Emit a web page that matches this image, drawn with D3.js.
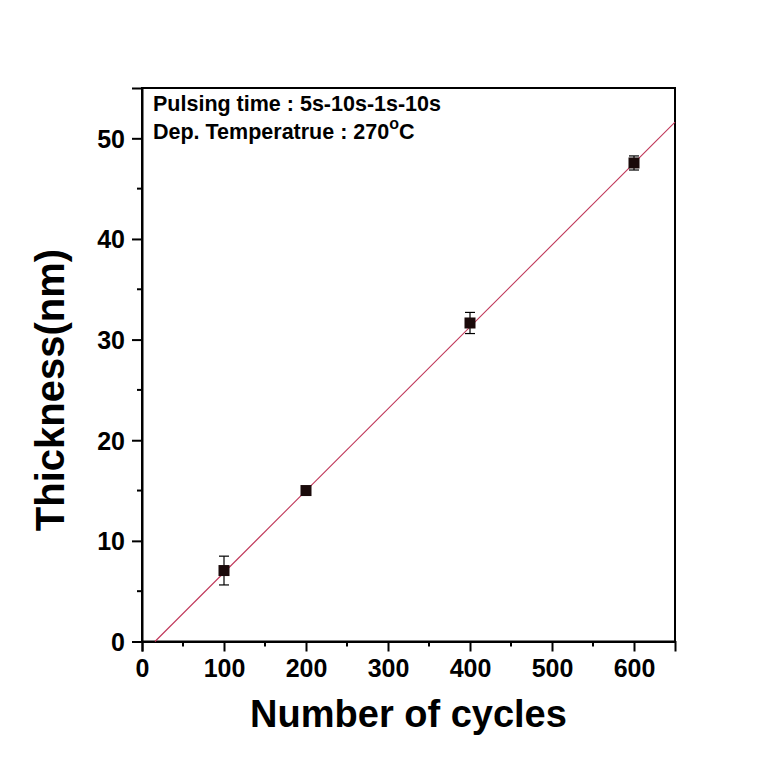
<!DOCTYPE html>
<html>
<head>
<meta charset="utf-8">
<script src="https://cdn.jsdelivr.net/npm/d3@7"></script>
<style>
  html, body { margin: 0; padding: 0; background: #fff; }
  svg { display: block; font-family: Arial, "Liberation Sans", sans-serif; }
</style>
</head>
<body>
<svg id="chart" width="768" height="768"></svg>
<script>
// ---- data ----
const cycles = [100, 200, 400, 600];
const thickness = [7.05, 15.0, 31.65, 47.55];
const errors = [1.43, 0.3, 1.05, 0.7];
const fitX = [15.8, 650];
const fitY = [0, 51.6];
const xTicks = [0, 100, 200, 300, 400, 500, 600];
const yTicks = [0, 10, 20, 30, 40, 50];
const xLabel = "Number of cycles";
const yLabel = "Thickness(nm)";
const note1 = "Pulsing time : 5s-10s-1s-10s";
const note2 = "Dep. Temperatrue : 270";

const svg = d3.select("#chart");
const L = 142, R = 675, T = 88, B = 641.5;

const x = d3.scaleLinear().domain([0, 650]).range([L, R]);
const y = d3.scaleLinear().domain([0, 55]).range([B, T]);

// frame
svg.append("rect").attr("x", L).attr("y", T).attr("width", R - L).attr("height", B - T)
  .attr("fill", "none").attr("stroke", "#000").attr("stroke-width", 2);

// minor ticks
const xMinor = d3.range(50, 650, 100);
const yMinor = d3.range(5, 55, 10);
svg.append("g").selectAll("line").data(xMinor).join("line")
  .attr("x1", d => x(d)).attr("x2", d => x(d)).attr("y1", B).attr("y2", B + 5)
  .attr("stroke", "#000").attr("stroke-width", 2);
svg.append("g").selectAll("line").data(yMinor).join("line")
  .attr("y1", d => y(d)).attr("y2", d => y(d)).attr("x1", L).attr("x2", L - 5)
  .attr("stroke", "#000").attr("stroke-width", 2);

// axes
const xAxis = svg.append("g").attr("transform", `translate(0,${B})`)
  .call(d3.axisBottom(x).tickValues(xTicks).tickSize(10).tickPadding(8).tickFormat(d3.format("d")));
const yAxis = svg.append("g").attr("transform", `translate(${L},0)`)
  .call(d3.axisLeft(y).tickValues(yTicks).tickSize(10).tickPadding(7).tickFormat(d3.format("d")));
[xAxis, yAxis].forEach(g => {
  g.select(".domain").attr("stroke-width", 2);
  g.selectAll(".tick line").attr("stroke-width", 2);
  g.selectAll("text").attr("font-family", "Arial, 'Liberation Sans', sans-serif")
    .attr("font-weight", "bold").attr("fill", "#000");
});
xAxis.selectAll("text").attr("font-size", 25);
yAxis.selectAll("text").attr("font-size", 25).attr("dy", "0.36em");

// fit line
svg.append("line")
  .attr("x1", x(fitX[0])).attr("y1", y(fitY[0]))
  .attr("x2", x(fitX[1])).attr("y2", y(fitY[1]))
  .attr("stroke", "#c0385a").attr("stroke-width", 1.1);

// error bars
const eb = svg.append("g").attr("stroke", "#000").attr("stroke-width", 1.2);
cycles.forEach((c, i) => {
  const cx = x(c), top = y(thickness[i] + errors[i]), bot = y(thickness[i] - errors[i]);
  eb.append("line").attr("x1", cx).attr("x2", cx).attr("y1", top).attr("y2", bot);
  eb.append("line").attr("x1", cx - 5).attr("x2", cx + 5).attr("y1", top).attr("y2", top);
  eb.append("line").attr("x1", cx - 5).attr("x2", cx + 5).attr("y1", bot).attr("y2", bot);
});

// markers
svg.append("g").selectAll("rect").data(cycles).join("rect")
  .attr("x", d => x(d) - 5.5).attr("y", (d, i) => y(thickness[i]) - 5.5)
  .attr("width", 11).attr("height", 11).attr("fill", "#1a0a0a");

// annotations
svg.append("text").attr("x", 153).attr("y", 111).attr("font-size", 21.5).attr("font-weight", "bold")
  .text(note1);
const t2 = svg.append("text").attr("x", 153).attr("y", 139).attr("font-size", 21.5).attr("font-weight", "bold");
t2.append("tspan").text(note2);
t2.append("tspan").attr("dy", -10).attr("font-size", 16).text("o");
t2.append("tspan").attr("dy", 10).text("C");

// axis titles
svg.append("text").attr("x", (L + R) / 2).attr("y", 727).attr("text-anchor", "middle")
  .attr("font-size", 38).attr("font-weight", "bold").text(xLabel);
svg.append("text").attr("transform", `translate(64,390) rotate(-90)`).attr("text-anchor", "middle")
  .attr("font-size", 40).attr("font-weight", "bold").text(yLabel);
</script>
</body>
</html>
